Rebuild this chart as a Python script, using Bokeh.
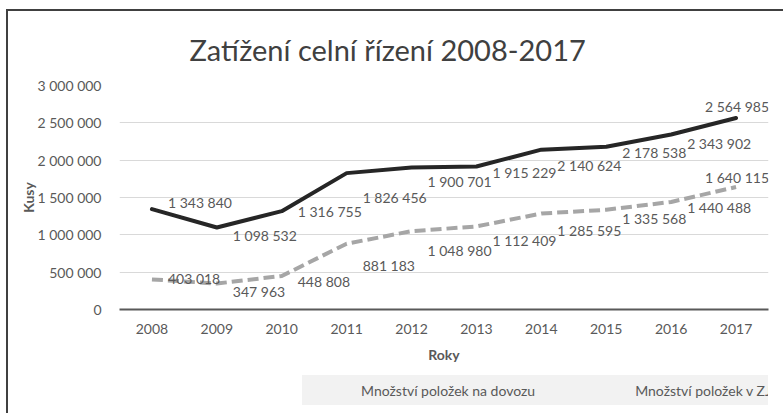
from bokeh.plotting import figure
from bokeh.layouts import column
from bokeh.models import (ColumnDataSource, FixedTicker, Legend, LegendItem, LabelSet)
from bokeh.core.properties import value
from bokeh.embed import file_html
from bokeh.resources import INLINE

# ---------------- data ----------------
years = ["2008", "2009", "2010", "2011", "2012", "2013", "2014", "2015", "2016", "2017"]
dovoz = [1343840, 1098532, 1316755, 1826456, 1900701, 1915229, 2140624, 2178538, 2343902, 2564985]
zjp = [403018, 347963, 448808, 881183, 1048980, 1112409, 1285595, 1335568, 1440488, 1640115]
y_ticks = [0, 500000, 1000000, 1500000, 2000000, 2500000, 3000000]
y_tick_labels = ["0", "500 000", "1 000 000", "1 500 000", "2 000 000", "2 500 000", "3 000 000"]
title_text = "Zatížení celní řízení 2008-2017"
series_names = ["Množství položek na dovozu", "Množství položek v ZJP dovoz"]
x_label = "Roky"
y_label = "Kusy"

# label nudges in pixels (style)
dovoz_dx = [16, 16, 16, 16, 16, 16, 16, 16, 16, -31]
dovoz_dy = [-7, 8, 0, 24, 14, 6, 16, 6, 9, -11]
zjp_dx = [16, 16, 16, 16, 16, 16, 16, 16, 16, -31]
zjp_dy = [-1, 8, 6, 22, 19, 14, 17, 9, 6, -10]


def fmt(v):
    return f"{v:,}".replace(",", " ")


# ---------------- layout ----------------
W = 775
FL, FT, FW, FH = 111, 74, 649, 224
BOTTOM = 66
LEG_H = 38
Y_MAX = 3000000
FONT = "Lato"
TXT = "#595959"
DARK = "#262626"
GREY = "#a6a6a6"

p = figure(frame_width=FW, frame_height=FH, x_range=years, y_range=(0, Y_MAX),
           output_backend="svg", toolbar_location=None,
           min_border_left=FL, min_border_right=W - FL - FW,
           min_border_top=FT, min_border_bottom=BOTTOM)
p.outline_line_color = None
p.background_fill_color = "white"
p.border_fill_color = "white"

# title
p.title.text = title_text
p.title.align = "left"
p.title.offset = 70
p.title.standoff = 37
p.title.text_font = FONT
p.title.text_font_size = "29px"
p.title.text_font_style = "normal"
p.title.text_color = "#404040"

# grid
p.xgrid.visible = False
p.ygrid.grid_line_color = "#d9d9d9"
p.ygrid.grid_line_width = 1

# y axis
ya = p.yaxis[0]
ya.ticker = FixedTicker(ticks=y_ticks)
ya.major_label_overrides = {t: l for t, l in zip(y_ticks, y_tick_labels)}
ya.axis_line_color = None
ya.major_tick_line_color = None
ya.minor_tick_line_color = None
ya.major_label_standoff = 12
ya.major_label_text_font = FONT
ya.major_label_text_font_size = "14px"
ya.major_label_text_color = TXT
ya.axis_label = y_label
ya.axis_label_text_font = FONT
ya.axis_label_text_font_size = "14px"
ya.axis_label_text_font_style = "bold"
ya.axis_label_text_color = TXT
ya.axis_label_standoff = -3

# x axis
xa = p.xaxis[0]
xa.axis_line_color = "#595959"
xa.axis_line_width = 2
xa.major_tick_line_color = None
xa.minor_tick_line_color = None
xa.major_label_standoff = 8
xa.major_label_text_font = FONT
xa.major_label_text_font_size = "14px"
xa.major_label_text_color = TXT
xa.axis_label = x_label
xa.axis_label_text_font = FONT
xa.axis_label_text_font_size = "14px"
xa.axis_label_text_font_style = "bold"
xa.axis_label_text_color = TXT
xa.axis_label_standoff = 9

# lines
p.line(years, dovoz, line_color=DARK, line_width=4, line_join="round", line_cap="round")
p.line(years, zjp, line_color=GREY, line_width=4, line_dash="11 5", line_join="round")

# data labels
for vals, dx, dy in ((dovoz, dovoz_dx, dovoz_dy), (zjp, zjp_dx, zjp_dy)):
    src = ColumnDataSource(dict(x=years, y=vals, t=[fmt(v) for v in vals],
                                dx=dx, dy=[-d for d in dy]))
    p.add_layout(LabelSet(x="x", y="y", text="t", x_offset="dx", y_offset="dy", source=src,
                          text_font=value(FONT), text_font_size=value("14px"),
                          text_color=TXT, text_align="left", text_baseline="middle"))

# ---------------- legend strip (own small figure below the chart) ----------------
pl = figure(width=W, height=LEG_H, x_range=(0, 1), y_range=(0, 1), title=None,
            x_axis_location=None, y_axis_location=None,
            output_backend="svg", toolbar_location=None, min_border=0)
pl.grid.visible = False
pl.outline_line_color = None
pl.background_fill_color = "white"
pl.border_fill_color = "white"
k1 = pl.line(x=[], y=[], line_color=DARK, line_width=4, line_cap="round")
k2 = pl.line(x=[], y=[], line_color=GREY, line_width=4, line_dash="11 5")

legend = Legend(items=[LegendItem(label=series_names[0], renderers=[k1]),
                       LegendItem(label=series_names[1], renderers=[k2])],
                orientation="horizontal", location=(183, 8),
                background_fill_color="#f2f2f2", background_fill_alpha=1,
                border_line_alpha=0,
                padding=6, margin=0, spacing=47, glyph_width=46, glyph_height=18,
                label_height=18, label_standoff=7, label_text_font=FONT,
                label_text_font_size="14px", label_text_color=TXT)
pl.add_layout(legend)

layout = column(p, pl, spacing=0)
layout.styles = {"margin-left": "8px", "margin-top": "11px",
                 "outline": "2px solid #404040"}

open("out.html", "w").write(file_html(layout, INLINE))
